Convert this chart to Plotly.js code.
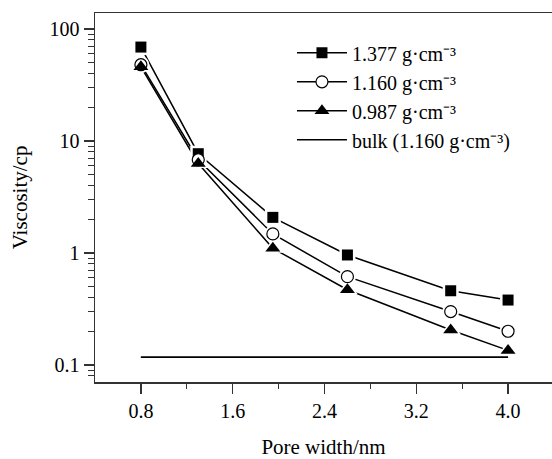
<!DOCTYPE html>
<html>
<head>
<meta charset="utf-8">
<script src="https://cdn.plot.ly/plotly-3.0.1.min.js"></script>
<style>html,body{margin:0;padding:0;background:#fff;}#chart{width:552px;height:459px;}</style>
</head>
<body>
<div id="chart"></div>
<script>
// Data
const poreWidth = [0.8, 1.3, 1.95, 2.6, 3.5, 4.0];
const visc1377 = [69, 7.7, 2.08, 0.96, 0.46, 0.38];
const visc1160 = [48, 6.8, 1.48, 0.615, 0.30, 0.20];
const visc0987 = [46, 6.3, 1.1, 0.47, 0.205, 0.135];
const bulkX = [0.8, 4.0];
const bulkVisc = [0.117, 0.117];
const seriesNames = ['1.377 g·cm⁻³', '1.160 g·cm⁻³', '0.987 g·cm⁻³', 'bulk (1.160 g·cm⁻³)'];
const xTickVals = [0.8, 1.6, 2.4, 3.2, 4.0];
const xTickText = ['0.8', '1.6', '2.4', '3.2', '4.0'];
const yTickVals = [0.1, 1, 10, 100];
const yTickText = ['0.1', '1', '10', '100'];

const series = [
  {y: visc1377, name: seriesNames[0], symbol: 'square', size: 11, fill: '#000', lw: 0},
  {y: visc1160, name: seriesNames[1], symbol: 'circle', size: 12, fill: '#fff', lw: 1.2},
  {y: visc0987, name: seriesNames[2], symbol: 'triangle-up', size: 13, fill: '#000', lw: 0}
];

const traces = [];
series.forEach((s) => {
  traces.push({
    x: poreWidth, y: s.y, name: s.name, type: 'scatter', mode: 'lines+markers',
    line: {color: '#000', width: 1.5},
    marker: {symbol: s.symbol, size: s.size, color: s.fill, line: {color: '#000', width: s.lw}}
  });
});
traces.push({
  x: bulkX, y: bulkVisc, name: seriesNames[3], type: 'scatter', mode: 'lines',
  line: {color: '#000', width: 1.5}
});
// white halos to separate the lines from the markers
series.forEach((s) => {
  traces.push({
    x: poreWidth, y: s.y, type: 'scatter', mode: 'markers', showlegend: false, hoverinfo: 'skip',
    marker: {symbol: s.symbol, size: s.size + 5, color: '#fff', line: {width: 0}}
  });
});
// bulk line redrawn above the halos
traces.push({
  x: bulkX, y: bulkVisc, type: 'scatter', mode: 'lines', showlegend: false, hoverinfo: 'skip',
  line: {color: '#000', width: 1.5}
});
series.forEach((s) => {
  traces.push({
    x: poreWidth, y: s.y, type: 'scatter', mode: 'markers', showlegend: false, hoverinfo: 'skip',
    marker: {symbol: s.symbol, size: s.size, color: s.fill, line: {color: '#000', width: s.lw}}
  });
});

const font = '"Liberation Serif", "Times New Roman", serif';
const layout = {
  width: 552, height: 459,
  margin: {l: 95, r: 0, t: 13, b: 77},
  paper_bgcolor: '#fff', plot_bgcolor: '#fff',
  font: {family: font, color: '#000', size: 20},
  showlegend: true,
  legend: {
    x: 0.431, y: 0.945, xanchor: 'left', yanchor: 'top',
    bgcolor: 'rgba(0,0,0,0)', borderwidth: 0,
    font: {family: font, size: 20, color: '#000'},
    traceorder: 'normal', itemwidth: 50, tracegroupgap: 0
  },
  xaxis: {
    range: [0.4, 4.383], showgrid: false, zeroline: false,
    showline: true, mirror: true, linecolor: '#333', linewidth: 1.5,
    ticks: 'outside', ticklen: 10, tickwidth: 1.5, tickcolor: '#333',
    tickmode: 'array', tickvals: xTickVals, ticktext: xTickText,
    tickfont: {family: font, size: 20},
    minor: {ticks: 'outside', ticklen: 5, tickwidth: 1.2, tickcolor: '#333', tickmode: 'array', tickvals: [1.2, 2.0, 2.8, 3.6]},
    title: {text: 'Pore width/nm', font: {family: font, size: 21}, standoff: 20}
  },
  yaxis: {
    type: 'log', range: [-1.152, 2.143], showgrid: false, zeroline: false,
    showline: true, mirror: false, linecolor: '#333', linewidth: 1.5,
    ticks: 'outside', ticklen: 10, tickwidth: 1.5, tickcolor: '#333',
    tickmode: 'array', tickvals: yTickVals, ticktext: yTickText,
    tickfont: {family: font, size: 20},
    minor: {ticks: 'outside', ticklen: 6, tickwidth: 1.2, tickcolor: '#333', tickmode: 'array',
      tickvals: [0.08, 0.09, 0.2, 0.3, 0.4, 0.5, 0.6, 0.7, 0.8, 0.9, 2, 3, 4, 5, 6, 7, 8, 9, 20, 30, 40, 50, 60, 70, 80, 90]},
    title: {text: 'Viscosity/cp', font: {family: font, size: 21}, standoff: 16}
  }
};

Plotly.newPlot('chart', traces, layout, {staticPlot: true, displayModeBar: false});
</script>
</body>
</html>
